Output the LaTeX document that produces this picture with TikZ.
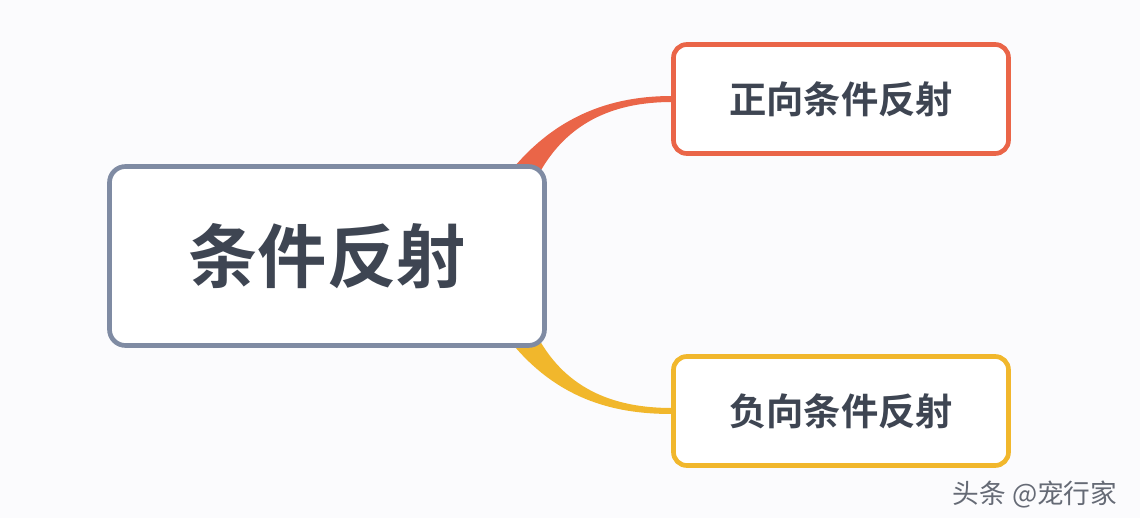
\documentclass[tikz,border=0pt]{standalone}
\usepackage{fontspec}
\newfontfamily\cjk{Noto Sans CJK SC}
\newfontfamily\cjkb{Noto Sans CJK SC Bold}
\definecolor{bg}{HTML}{FBFBFD}
\definecolor{txt}{HTML}{3E4552}
\definecolor{mainb}{HTML}{7F8BA3}
\definecolor{redb}{HTML}{EA6548}
\definecolor{yelb}{HTML}{F1B72C}
\tikzset{
  box/.style={draw, line width=3.5pt, rounded corners=12pt, fill=white, text=txt, font=\cjkb, inner sep=0pt},
}
\begin{document}
\begin{tikzpicture}[x=0.75pt,y=-0.75pt]
\fill[bg] (0,0) rectangle (1140,518);
\useasboundingbox (0,0) rectangle (1140,518);
% connectors
\fill[redb] (510,172) .. controls (560,110) and (620,96) .. (672,96) -- (672,102) .. controls (625,102) and (572,115) .. (540,172) -- cycle;
\fill[yelb] (510,341) .. controls (560,403) and (620,414) .. (672,414) -- (672,408) .. controls (625,408) and (572,396) .. (540,341) -- cycle;
\node[box, draw=mainb, minimum width=326.25pt, minimum height=134.25pt, font=\cjkb\fontsize{52}{60}\selectfont] (main) at (327,256) {条件反射};
\node[box, draw=redb, minimum width=251.25pt, minimum height=81.75pt, rounded corners=10pt, font=\cjkb\fontsize{28}{34}\selectfont] (pos) at (841,99) {正向条件反射};
\node[box, draw=yelb, minimum width=251.25pt, minimum height=81.75pt, rounded corners=10pt, font=\cjkb\fontsize{28}{34}\selectfont] (neg) at (841,411) {负向条件反射};
\node[text=txt!80, font=\cjk\fontsize{20}{24}\selectfont, inner sep=0pt] (wm) at (1035,495) {头条 @宠行家};
\end{tikzpicture}
\end{document}
